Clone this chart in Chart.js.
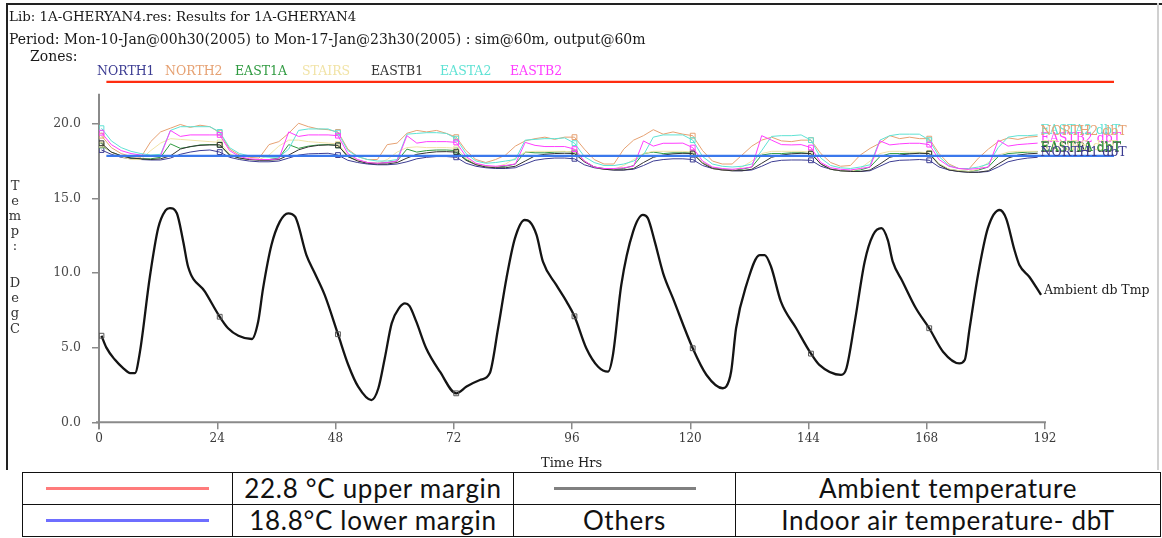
<!DOCTYPE html>
<html>
<head>
<meta charset="utf-8">
<script src="https://cdn.jsdelivr.net/npm/chart.js@4.4.1/dist/chart.umd.min.js"></script>
<style>
  html, body { margin: 0; padding: 0; background: #fff; }
  #wrap { position: relative; width: 1162px; height: 538px; overflow: hidden; background: #fff; }
  #chart { position: absolute; left: 0; top: 0; }
  .frameTop { position: absolute; left: 6px; top: 3px; width: 1156px; height: 2px; background: #222; }
  .frameLeft { position: absolute; left: 6px; top: 3px; width: 2px; height: 467px; background: #222; }
  .frameRight { position: absolute; left: 1157px; top: 3px; width: 2px; height: 467px; background: #d0d0d0; }
  .hdr { position: absolute; font-family: "DejaVu Serif", serif; color: #1a1a1a; white-space: nowrap; font-size: 14px; line-height: 1; }
  .zone { position: absolute; top: 65px; font-family: "DejaVu Serif", serif; font-size: 12.5px; line-height: 1; white-space: nowrap; }
  #ytitle { position: absolute; left: 8px; top: 0; width: 14px; font-family: "DejaVu Serif", serif; font-size: 13px; color: #333; }
  #ytitle span { position: absolute; left: 0; width: 14px; text-align: center; line-height: 1; }
  #xtitle { position: absolute; left: 541px; top: 455px; font-family: "DejaVu Serif", serif; font-size: 13px; color: #222; white-space: nowrap; }
  #key { position: absolute; left: 22px; top: 472px; border-collapse: collapse; font-family: Lato, "Open Sans", sans-serif; font-size: 26px; letter-spacing: 0.7px; color: #111; table-layout: fixed; }
  #key td { border: 1.5px solid #111; height: 31px; padding: 0; text-align: center; vertical-align: middle; white-space: nowrap; line-height: 31px; }
  .swl { margin: 0 auto; height: 3px; }
</style>
</head>
<body>
<div id="wrap">
  <canvas id="chart" width="1162" height="470"></canvas>
  <div class="frameTop"></div>
  <div class="frameLeft"></div>
  <div class="frameRight"></div>
  <div class="hdr" style="left:9px;top:10px;font-size:13.4px;">Lib: 1A-GHERYAN4.res: Results for 1A-GHERYAN4</div>
  <div class="hdr" style="left:9px;top:32px;">Period: Mon-10-Jan@00h30(2005) to Mon-17-Jan@23h30(2005) : sim@60m, output@60m</div>
  <div class="hdr" style="left:30px;top:49px;">Zones:</div>
  <div id="ytitle"></div>
  <div id="xtitle">Time Hrs</div>
  <table id="key">
    <colgroup><col style="width:210px"><col style="width:281px"><col style="width:222px"><col style="width:425px"></colgroup>
    <tr>
      <td><div class="swl" style="width:163px;background:#ff7b7b;"></div></td>
      <td>22.8 °C upper margin</td>
      <td><div class="swl" style="width:142px;background:#808080;"></div></td>
      <td>Ambient temperature</td>
    </tr>
    <tr>
      <td><div class="swl" style="width:163px;background:#6e6eff;"></div></td>
      <td>18.8°C lower margin</td>
      <td>Others</td>
      <td>Indoor air temperature- dbT</td>
    </tr>
  </table>
</div>

<script>
// ---- ambient dry-bulb temperature (hour, degC) ----
const ambientHours = [
  0.5, 1.5, 3.2, 5, 6.3, 7.3, 8.3, 10.3, 12.0, 13.5, 14.4, 15.8, 17.1, 18.1, 21.5,
  24.5, 26.2, 28.3, 31, 32.3, 33.3, 35.0, 36.7, 38.4, 39.8, 42.1, 43.8, 45.8,
  48.5, 50.6, 52.6, 55.3, 56.7, 58.0, 59.4, 61, 62.1, 63, 64.4, 66.4, 69.2,
  72.5, 74.6, 77.3, 79.3, 81.0, 82.7, 84.4, 86.4, 87.4, 88.8, 90.1, 92.8, 94.9,
  96.5, 98.9, 101.3, 103.3, 104.3, 106.0, 108.4, 110.4, 111.4, 112.8, 114.5, 116.5,
  120.5, 123.3, 126.6, 127.3, 128.3, 129.3, 131.4, 134.1, 135.1, 136.4, 138.4, 141.5,
  144.5, 146.2, 150.6, 151.7, 153.4, 155.4, 157.1, 158.8, 160.1, 161.1, 163.1, 165.8,
  168.5, 171.3, 174.6, 175.7, 176.7, 178.4, 180.4, 182.8, 184.1, 185.8, 186.8, 188.8, 191.2
];
const ambientTemps = [
  5.8, 5.0, 4.2, 3.6, 3.3, 3.3, 4.7, 9.7, 13.0, 14.2, 14.35, 14.0, 12.1, 10.4, 8.75,
  7.07, 6.3, 5.8, 5.58, 6.74, 8.97, 11.87, 13.44, 14.0, 13.77, 11.2, 9.98, 8.53,
  5.9, 3.84, 2.39, 1.49, 2.28, 4.29, 6.63, 7.7, 7.97, 7.8, 6.74, 4.96, 3.39,
  1.94, 2.39, 2.83, 3.28, 6.3, 9.65, 12.3, 13.55, 13.44, 12.55, 10.76, 9.2, 8.08,
  7.1, 4.96, 3.72, 3.39, 4.5, 9.2, 12.77, 13.89, 13.66, 12.1, 9.98, 8.3,
  4.96, 3.17, 2.28, 2.39, 3.4, 6.3, 9.2, 11.2, 11.2, 10.42, 8.08, 6.3,
  4.6, 3.84, 3.17, 3.62, 6.74, 10.76, 12.55, 13.0, 12.2, 10.76, 9.42, 7.64,
  6.3, 4.73, 3.95, 4.17, 6.3, 9.87, 13.0, 14.22, 13.66, 11.54, 10.54, 9.75, 8.53
];

// ---- comfort band lines (hour span, degC) ----
const marginHours = [1.5, 206];
const upperMargin = [22.8, 22.8];
const lowerMargin = [17.85, 17.85];

// ---- zone air temperatures, one value every two hours from 00h30 ----
const zoneHours = Array.from({ length: 96 }, (_, k) => 0.5 + 2 * k);

const north1 = [
  18.24, 17.95, 17.75, 17.65, 17.6, 17.57, 17.57, 17.7, 17.95, 18.1, 18.2, 18.24,
  18.1, 17.75, 17.6, 17.5, 17.45, 17.45, 17.5, 17.7, 17.9, 17.98, 18.0, 18.02,
  17.9, 17.55, 17.4, 17.3, 17.25, 17.25, 17.3, 17.45, 17.65, 17.75, 17.8, 17.8,
  17.75, 17.35, 17.15, 17.05, 17.0, 17.0, 17.05, 17.3, 17.55, 17.65, 17.7, 17.7,
  17.65, 17.25, 17.05, 16.95, 16.9, 16.9, 16.95, 17.2, 17.5, 17.6, 17.65, 17.65,
  17.6, 17.2, 17.0, 16.9, 16.85, 16.85, 16.9, 17.15, 17.45, 17.55, 17.57, 17.57,
  17.55, 17.15, 16.95, 16.85, 16.8, 16.8, 16.85, 17.15, 17.45, 17.55, 17.57, 17.6,
  17.55, 17.1, 16.9, 16.8, 16.75, 16.75, 16.8, 17.1, 17.45, 17.6, 17.7, 17.75
];
const north2 = [
  19.2, 18.4, 18.0, 17.8, 17.75, 18.8, 19.45, 19.7, 19.95, 19.75, 19.9, 19.8,
  19.4, 18.3, 17.9, 17.75, 17.7, 18.6, 18.8, 19.36, 20.03, 19.8, 19.65, 19.6,
  19.45, 18.3, 17.8, 17.6, 17.6, 18.6, 18.7, 19.36, 19.55, 19.45, 19.55, 19.35,
  19.1, 18.2, 17.6, 17.4, 17.6, 17.9, 18.5, 18.85, 19.0, 19.1, 18.95, 19.1,
  19.1, 18.3, 17.6, 17.3, 17.3, 18.3, 18.9, 19.2, 19.6, 19.3, 19.45, 19.3,
  19.2, 18.2, 17.5, 17.3, 17.3, 17.9, 18.5, 18.9, 19.1, 18.85, 18.8, 18.9,
  18.9, 18.0, 17.4, 17.15, 17.2, 17.9, 18.35, 18.7, 19.2, 19.0, 19.1, 19.0,
  19.0, 18.0, 17.3, 17.0, 16.95, 17.7, 18.3, 18.8, 19.05, 18.95, 19.1, 19.15
];
const east1a = [
  18.55, 18.1, 17.85, 17.7, 17.65, 17.65, 17.75, 18.65, 18.35, 18.45, 18.58, 18.6,
  18.6, 17.9, 17.7, 17.6, 17.6, 17.6, 17.7, 18.6, 18.35, 18.5, 18.58, 18.6,
  18.55, 17.8, 17.55, 17.4, 17.35, 17.4, 17.5, 18.3, 18.1, 18.2, 18.24, 18.24,
  18.2, 17.6, 17.3, 17.15, 17.1, 17.15, 17.3, 18.1, 18.05, 18.05, 18.1, 18.13,
  18.1, 17.5, 17.1, 17.0, 16.95, 17.0, 17.2, 18.0, 18.1, 18.0, 18.05, 18.05,
  18.05, 17.4, 17.05, 16.95, 16.9, 16.95, 17.1, 17.9, 18.0, 18.0, 18.05, 18.05,
  18.0, 17.3, 16.95, 16.85, 16.85, 16.9, 17.1, 17.8, 18.0, 18.0, 18.02, 18.05,
  18.0, 17.3, 16.95, 16.85, 16.8, 16.9, 17.1, 17.8, 18.0, 18.05, 18.1, 18.13
];
const stairs = [
  18.6, 18.1, 17.8, 17.6, 17.6, 18.2, 18.7, 19.0, 18.95, 18.9, 18.85, 18.8,
  18.75, 18.0, 17.7, 17.6, 17.6, 17.9, 18.5, 18.9, 18.9, 18.8, 18.75, 18.7,
  18.65, 17.9, 17.55, 17.4, 17.35, 17.6, 18.1, 18.4, 18.45, 18.4, 18.4, 18.4,
  18.35, 17.7, 17.3, 17.15, 17.1, 17.3, 17.7, 18.1, 18.15, 18.15, 18.15, 18.15,
  18.1, 17.5, 17.1, 16.95, 16.95, 17.2, 17.6, 18.0, 18.15, 18.15, 18.15, 18.15,
  18.1, 17.4, 17.0, 16.9, 16.85, 17.1, 17.5, 18.0, 18.15, 18.15, 18.15, 18.15,
  18.1, 17.3, 16.95, 16.85, 16.8, 17.0, 17.5, 18.0, 18.15, 18.15, 18.1, 18.1,
  18.05, 17.3, 16.95, 16.85, 16.8, 16.95, 17.4, 17.9, 18.1, 18.15, 18.15, 18.15
];
const eastb1 = [
  18.69, 18.1, 17.85, 17.7, 17.65, 17.6, 17.65, 17.85, 18.3, 18.47, 18.55, 18.58,
  18.58, 17.9, 17.7, 17.6, 17.55, 17.55, 17.6, 17.9, 18.25, 18.45, 18.55, 18.58,
  18.55, 17.8, 17.5, 17.35, 17.3, 17.3, 17.4, 17.7, 17.95, 18.05, 18.12, 18.13,
  18.1, 17.55, 17.25, 17.1, 17.05, 17.05, 17.15, 17.5, 17.85, 17.95, 18.0, 18.02,
  18.0, 17.45, 17.1, 16.95, 16.9, 16.9, 17.0, 17.4, 17.75, 17.9, 17.98, 18.02,
  18.0, 17.35, 17.0, 16.9, 16.85, 16.85, 16.95, 17.35, 17.75, 17.9, 17.98, 18.02,
  18.0, 17.3, 16.95, 16.85, 16.8, 16.8, 16.9, 17.3, 17.75, 17.9, 17.98, 18.02,
  18.0, 17.25, 16.9, 16.8, 16.75, 16.75, 16.85, 17.3, 17.7, 17.9, 17.98, 18.02
];
const easta2 = [
  19.7, 18.85, 18.4, 18.15, 18.0, 17.9, 17.95, 19.55, 19.8, 19.8, 19.8, 19.8,
  19.45, 18.4, 18.0, 17.85, 17.8, 17.75, 17.75, 18.3, 19.55, 19.65, 19.65, 19.65,
  19.4, 18.2, 17.8, 17.6, 17.5, 17.5, 17.6, 19.3, 19.35, 19.4, 19.4, 19.35,
  19.0, 18.0, 17.5, 17.35, 17.4, 17.5, 17.6, 18.9, 18.95, 19.0, 19.0, 19.05,
  18.7, 17.8, 17.4, 17.2, 17.2, 17.3, 17.5, 17.9, 19.1, 19.25, 19.25, 19.25,
  18.9, 17.8, 17.3, 17.15, 17.1, 17.15, 17.3, 18.2, 19.15, 19.2, 19.2, 19.25,
  18.9, 17.7, 17.2, 17.05, 17.0, 17.1, 17.25, 18.9, 19.2, 19.3, 19.3, 19.3,
  18.9, 17.8, 17.2, 17.0, 17.0, 17.1, 17.3, 18.4, 19.1, 19.2, 19.2, 19.25
];
const eastb2 = [
  19.4, 18.6, 18.2, 18.0, 17.9, 17.85, 17.85, 19.55, 19.15, 19.25, 19.25, 19.25,
  19.25, 18.2, 17.8, 17.65, 17.6, 17.6, 17.65, 19.45, 19.15, 19.25, 19.25, 19.25,
  19.2, 18.0, 17.6, 17.4, 17.35, 17.4, 17.5, 19.2, 18.7, 18.8, 18.8, 18.8,
  18.75, 17.8, 17.35, 17.2, 17.15, 17.2, 17.3, 18.75, 18.55, 18.47, 18.47, 18.47,
  18.3, 17.5, 17.1, 17.0, 17.0, 17.05, 17.15, 18.85, 18.5, 18.69, 18.69, 18.7,
  18.4, 17.5, 17.1, 17.0, 16.95, 17.0, 17.1, 19.2, 18.9, 18.6, 18.58, 18.6,
  18.4, 17.4, 17.05, 16.95, 16.9, 17.0, 17.1, 18.85, 18.58, 18.65, 18.69, 18.69,
  18.6, 17.6, 17.15, 17.0, 16.95, 17.0, 17.1, 18.9, 18.5, 18.6, 18.65, 18.7
];

// ---- zone names, colours and axis ticks ----
const zoneNames  = ['NORTH1', 'NORTH2', 'EAST1A', 'STAIRS', 'EASTB1', 'EASTA2', 'EASTB2'];
const zoneColors = ['#3c3c92', '#e6a172', '#2f9a40', '#f1e3a6', '#333333', '#5fe2d4', '#ff3dff'];
const zoneSeries = [north1, north2, east1a, stairs, eastb1, easta2, eastb2];
const hourTicks = [0, 24, 48, 72, 96, 120, 144, 168, 192];
const tempTicks = [0, 5, 10, 15, 20];
const yTitleLetters = ['T', 'e', 'm', 'p', ':', 'D', 'e', 'g', 'C'];

// header: zone list, laid out along the top of the plot
const zoneLefts = [97, 165, 235, 302, 371, 440, 510];
const wrap = document.getElementById('wrap');
zoneNames.forEach((n, i) => {
  const s = document.createElement('div');
  s.className = 'zone';
  s.textContent = n;
  s.style.color = zoneColors[i];
  s.style.left = zoneLefts[i] + 'px';
  wrap.appendChild(s);
});

// vertical axis title, one letter per line
const yTitleTops = [179, 194, 209, 224, 239, 276, 291, 306, 322];
const yt = document.getElementById('ytitle');
yTitleLetters.forEach((c, i) => {
  const s = document.createElement('span');
  s.textContent = c;
  s.style.top = yTitleTops[i] + 'px';
  yt.appendChild(s);
});

const toPoints = (xs, ys) => xs.map((x, i) => ({ x, y: ys[i] }));

// a hollow square every 24 h, as in the ESP-r result plots
const dayMarker = (ctx) => {
  const r = ctx.raw;
  if (!r) return 0;
  const k = (r.x - 0.5) / 24;
  return (Math.abs(k - Math.round(k)) < 1e-6 && r.x < 170) ? 3.4 : 0;
};

const zoneDatasets = zoneNames.map((n, i) => ({
  label: n + ' dbT',
  endLabel: n + ' dbT',
  data: toPoints(zoneHours, zoneSeries[i]),
  borderColor: zoneColors[i],
  borderWidth: 1,
  tension: 0,
  pointStyle: 'rect',
  pointRadius: dayMarker,
  pointBorderWidth: 1,
  pointBorderColor: zoneColors[i],
  pointBackgroundColor: 'rgba(0,0,0,0)'
})).reverse();

const datasets = [
  {
    label: 'Ambient db Tmp',
    endLabel: 'Ambient db Tmp',
    labelColor: '#222',
    data: toPoints(ambientHours, ambientTemps),
    borderColor: '#141414',
    borderWidth: 2.3,
    cubicInterpolationMode: 'monotone',
    pointStyle: 'rect',
    pointRadius: dayMarker,
    pointBorderWidth: 1,
    pointBorderColor: '#555',
    pointBackgroundColor: 'rgba(0,0,0,0)'
  },
  {
    label: 'upper margin',
    data: toPoints(marginHours, upperMargin),
    borderColor: '#ff2d10',
    borderWidth: 2.2,
    pointRadius: 0
  },
  {
    label: 'lower margin',
    data: toPoints(marginHours, lowerMargin),
    borderColor: '#3a78ec',
    borderWidth: 2.2,
    pointRadius: 0
  },
  ...zoneDatasets
];

// axis lines that stop at the last tick, like the original plot frame
const axisLines = {
  id: 'axisLines',
  beforeDatasetsDraw(chart) {
    const { ctx, scales: { x, y } } = chart;
    const x0 = x.getPixelForValue(0), x1 = x.getPixelForValue(192);
    const y0 = y.getPixelForValue(0), yTop = y.getPixelForValue(22.0);
    ctx.save();
    ctx.strokeStyle = '#8a8a8a';
    ctx.lineWidth = 2;
    ctx.beginPath();
    ctx.moveTo(x0 - 3, y0); ctx.lineTo(x1 + 1, y0);
    ctx.moveTo(x0, yTop); ctx.lineTo(x0, y0 + 7);
    ctx.stroke();
    ctx.restore();
  }
};

// series names written at the end of each curve
const endLabels = {
  id: 'endLabels',
  afterDatasetsDraw(chart) {
    const { ctx } = chart;
    ctx.save();
    ctx.font = '12.5px "DejaVu Serif"';
    ctx.textBaseline = 'alphabetic';
    chart.data.datasets.forEach((ds, i) => {
      if (!ds.endLabel) return;
      const meta = chart.getDatasetMeta(i);
      const pt = meta.data[meta.data.length - 1];
      ctx.fillStyle = ds.labelColor || ds.borderColor;
      ctx.fillText(ds.endLabel, pt.x + 3, pt.y - 1);
    });
    ctx.restore();
  }
};

new Chart(document.getElementById('chart'), {
  type: 'line',
  data: { datasets },
  plugins: [axisLines, endLabels],
  options: {
    responsive: false,
    animation: false,
    events: [],
    layout: { padding: { left: 0, top: 64, right: 28.3, bottom: 0 } },
    plugins: { legend: { display: false }, tooltip: { enabled: false } },
    scales: {
      x: {
        type: 'linear',
        min: 0,
        max: 210,
        afterFit: (s) => { s.height = 47.7; },
        afterBuildTicks: (s) => { s.ticks = hourTicks.map(v => ({ value: v })); },
        ticks: {
          padding: 2,
          color: '#3a3a3a',
          font: { family: '"DejaVu Serif"', size: 12 },
          callback: (v) => String(v),
          maxRotation: 0,
          autoSkip: false
        },
        grid: { display: true, drawOnChartArea: false, drawTicks: true, tickLength: 7, color: '#8a8a8a', lineWidth: 1.5 },
        border: { display: false }
      },
      y: {
        type: 'linear',
        min: 0,
        max: 24,
        afterFit: (s) => { s.width = 99; },
        afterBuildTicks: (s) => { s.ticks = tempTicks.map(v => ({ value: v })); },
        ticks: {
          padding: 11,
          color: '#4a4a4a',
          font: { family: '"DejaVu Serif"', size: 12.5 },
          callback: (v) => Number(v).toFixed(1)
        },
        grid: { display: true, drawOnChartArea: false, drawTicks: true, tickLength: 7, color: '#8a8a8a', lineWidth: 1.5 },
        border: { display: false }
      }
    }
  }
});
</script>
</body>
</html>
